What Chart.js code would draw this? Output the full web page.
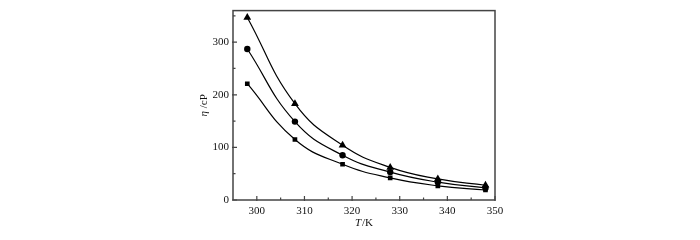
<!DOCTYPE html>
<html>
<head>
<meta charset="utf-8">
<script src="https://cdn.jsdelivr.net/npm/chart.js@4.4.0/dist/chart.umd.min.js"></script>
<style>
  html, body { margin: 0; padding: 0; background: #fff; }
  #wrap { width: 700px; height: 240px; }
</style>
</head>
<body>
<div id="wrap"><canvas id="viscChart" width="700" height="240"></canvas></div>
<script>
// Temperatures (K) and viscosity (cP) for the three series
const temperatures = [298, 308, 318, 328, 338, 348];
const seriesTriangle = [347, 183, 104, 62, 40, 28];
const seriesCircle = [287, 149, 85, 53, 34, 23];
const seriesSquare = [221, 115, 68, 42, 27, 19];

const xTicks = [300, 310, 320, 330, 340, 350];
const xMinorTicks = [305, 315, 325, 335, 345];
const yTicks = [0, 100, 200, 300];
const yMinorTicks = [50, 150, 250, 350];

const serif = "'Liberation Serif', 'DejaVu Serif', serif";

function toPoints(values) {
    return temperatures.map((t, i) => ({ x: t, y: values[i] }));
}

function makeDataset(values, style, radius) {
    return {
        data: toPoints(values),
        borderColor: '#000',
        backgroundColor: '#000',
        borderWidth: 1.2,
        pointStyle: style,
        pointRadius: radius,
        pointBorderWidth: 0,
        tension: 0.45,
        fill: false
    };
}

// Moldura, marcas internas e títulos com itálico
const framePlugin = {
    id: 'frame',
    afterDraw(chart) {
        const ctx = chart.ctx;
        const area = chart.chartArea;
        const xs = chart.scales.x;
        const ys = chart.scales.y;
        ctx.save();
        ctx.strokeStyle = '#444';
        ctx.lineWidth = 1.5;
        ctx.strokeRect(area.left, area.top, area.right - area.left, area.bottom - area.top);

        ctx.lineWidth = 1.2;
        ctx.beginPath();
        xTicks.forEach(v => {
            const px = xs.getPixelForValue(v);
            ctx.moveTo(px, area.bottom + 1);
            ctx.lineTo(px, area.bottom - 4);
        });
        xMinorTicks.forEach(v => {
            const px = xs.getPixelForValue(v);
            ctx.moveTo(px, area.bottom);
            ctx.lineTo(px, area.bottom - 2.5);
        });
        yTicks.forEach(v => {
            const py = ys.getPixelForValue(v);
            ctx.moveTo(area.left - 1, py);
            ctx.lineTo(area.left + 4, py);
        });
        yMinorTicks.forEach(v => {
            const py = ys.getPixelForValue(v);
            ctx.moveTo(area.left, py);
            ctx.lineTo(area.left + 2.5, py);
        });
        ctx.stroke();

        // título do eixo x: "T / K"
        ctx.fillStyle = '#111';
        ctx.textBaseline = 'middle';
        ctx.font = 'italic 11px ' + serif;
        const tW = ctx.measureText('T').width;
        ctx.font = '11px ' + serif;
        const restX = '/K';
        const rW = ctx.measureText(restX).width;
        const cx = (area.left + area.right) / 2;
        let sx = cx - (tW + rW + 1) / 2;
        ctx.font = 'italic 11px ' + serif;
        ctx.textAlign = 'left';
        ctx.fillText('T', sx, 223);
        ctx.font = '11px ' + serif;
        ctx.fillText(restX, sx + tW + 1, 223);

        // título do eixo y: "η /cP"
        ctx.translate(204, (area.top + area.bottom) / 2);
        ctx.rotate(-Math.PI / 2);
        ctx.font = 'italic 11px ' + serif;
        const eW = ctx.measureText('η').width;
        ctx.font = '11px ' + serif;
        const restY = ' /cP';
        const cW = ctx.measureText(restY).width;
        let sy = -(eW + cW) / 2;
        ctx.font = 'italic 11px ' + serif;
        ctx.fillText('η', sy, 0);
        ctx.font = '11px ' + serif;
        ctx.fillText(restY, sy + eW, 0);
        ctx.restore();
    }
};

new Chart(document.getElementById('viscChart').getContext('2d'), {
    type: 'line',
    data: {
        datasets: [
            makeDataset(seriesTriangle, 'triangle', 4.5),
            makeDataset(seriesCircle, 'circle', 3.2),
            makeDataset(seriesSquare, 'rect', 3.3)
        ]
    },
    options: {
        responsive: false,
        animation: false,
        layout: { padding: { left: 190, right: 205, top: 9, bottom: 5 } },
        plugins: {
            legend: { display: false },
            tooltip: { enabled: false }
        },
        scales: {
            x: {
                type: 'linear',
                min: 295,
                max: 350,
                afterBuildTicks: s => { s.ticks = xTicks.map(v => ({ value: v })); },
                afterFit: s => { s.height = 35; },
                grid: { display: false, drawTicks: false },
                border: { display: false },
                ticks: {
                    padding: 5,
                    color: '#111',
                    font: { family: serif, size: 11 },
                    maxRotation: 0
                }
            },
            y: {
                type: 'linear',
                min: 0,
                max: 360,
                afterBuildTicks: s => { s.ticks = yTicks.map(v => ({ value: v })); },
                afterFit: s => { s.width = 43; },
                grid: { display: false, drawTicks: false },
                border: { display: false },
                ticks: {
                    padding: 4,
                    color: '#111',
                    font: { family: serif, size: 11 }
                }
            }
        }
    },
    plugins: [framePlugin]
});
</script>
</body>
</html>
